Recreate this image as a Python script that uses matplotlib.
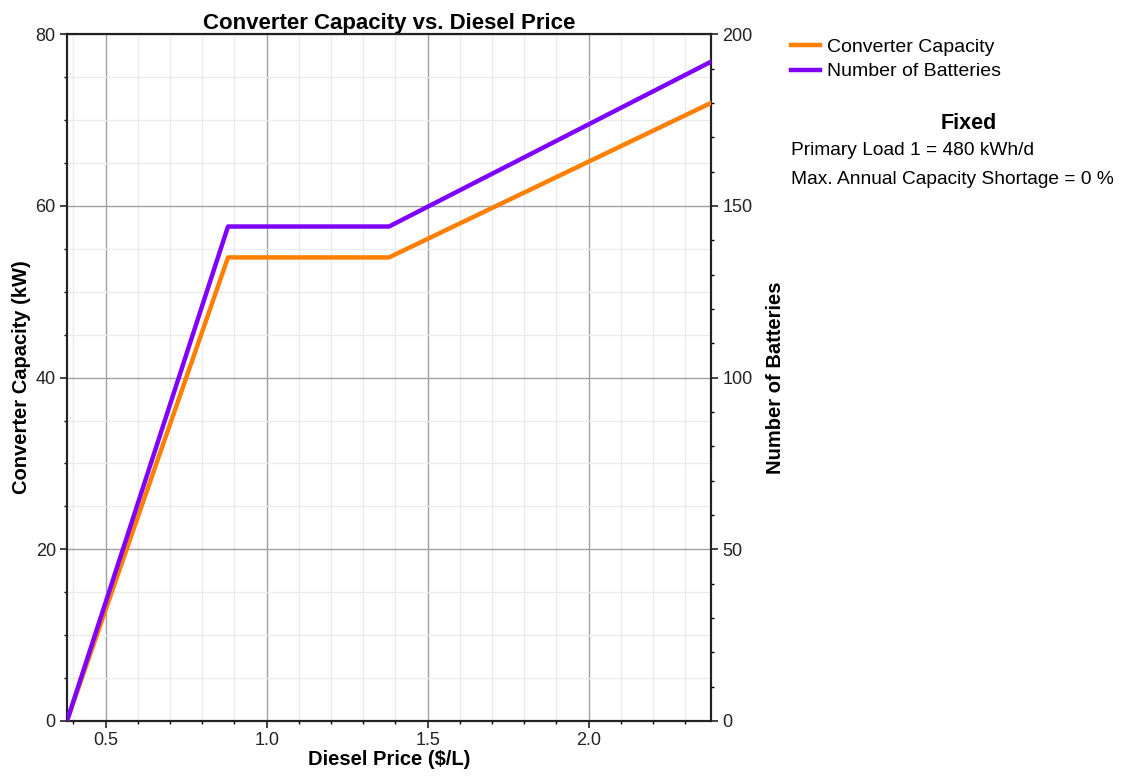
import matplotlib.pyplot as plt
from matplotlib.ticker import MultipleLocator
from matplotlib.lines import Line2D

plt.rcParams['font.family'] = ['Liberation Sans', 'DejaVu Sans']

# sensitivity results vs diesel price
diesel_price = [0.38, 0.88, 1.38, 1.88, 2.38]
converter_kw = [0, 54, 54, 63, 72]
batteries = [0, 144, 144, 168, 192]

orange = '#FF8000'
purple = '#8000FF'

fig = plt.figure(figsize=(11.45, 7.78), dpi=100)
ax = fig.add_axes([0.0585, 0.0733, 0.5625, 0.8827])
ax2 = ax.twinx()

ax.set_xlim(0.38, 2.38)
ax.set_ylim(0, 80)
ax2.set_ylim(0, 200)

ax.xaxis.set_major_locator(MultipleLocator(0.5))
ax.xaxis.set_minor_locator(MultipleLocator(0.1))
ax.yaxis.set_major_locator(MultipleLocator(20))
ax.yaxis.set_minor_locator(MultipleLocator(5))
ax2.yaxis.set_major_locator(MultipleLocator(50))
ax2.yaxis.set_minor_locator(MultipleLocator(10))
ax.xaxis.set_major_formatter(lambda v, p: f'{v:.1f}')

ax.grid(which='minor', color='#EBEBEB', linewidth=1.0)
ax.grid(which='major', color='#A0A0A0', linewidth=1.0)
ax.set_axisbelow(True)

# both lines live on the twin axes so the grid stays underneath;
# the converter line still uses the left-axis scale
ax2.plot(diesel_price, converter_kw, color=orange, linewidth=3.2,
         transform=ax.transData, zorder=3)
ax2.plot(diesel_price, batteries, color=purple, linewidth=3.2, zorder=4)

for a in (ax, ax2):
    a.tick_params(which='major', direction='out', length=5, width=1.2,
                  labelsize=13, colors='#222222', pad=3)
    a.tick_params(which='minor', direction='out', length=2.5, width=1)
    for s in a.spines.values():
        s.set_linewidth(1.5)
        s.set_color('#222222')

ax.set_title('Converter Capacity vs. Diesel Price', fontsize=16, fontweight='bold', pad=3)
ax.set_xlabel('Diesel Price ($/L)', fontsize=14.5, fontweight='bold', labelpad=1)
ax.set_ylabel('Converter Capacity (kW)', fontsize=14.5, fontweight='bold', labelpad=3)
ax2.set_ylabel('Number of Batteries', fontsize=14.5, fontweight='bold', labelpad=10)

handles = [Line2D([], [], color=orange, linewidth=3.2),
           Line2D([], [], color=purple, linewidth=3.2)]
fig.legend(handles, ['Converter Capacity', 'Number of Batteries'],
           loc='upper left', bbox_to_anchor=(0.684, 0.961), frameon=False,
           fontsize=14, handlelength=1.5, handletextpad=0.35, labelspacing=0.36,
           borderaxespad=0)

fig.text(0.846, 0.841, 'Fixed', fontsize=15.5, fontweight='bold', ha='center', va='center')
fig.text(0.691, 0.806, 'Primary Load 1 = 480 kWh/d', fontsize=13.8, va='center')
fig.text(0.691, 0.769, 'Max. Annual Capacity Shortage = 0 %', fontsize=13.8, va='center')

fig.savefig('out.png', dpi=100)
